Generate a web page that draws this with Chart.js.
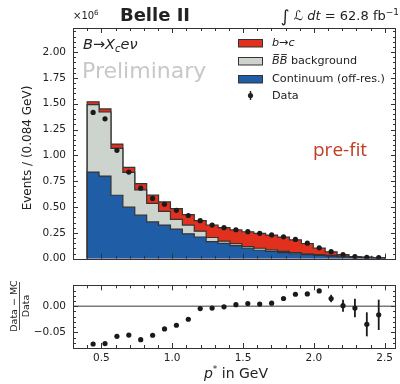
<!DOCTYPE html>
<html>
<head>
<meta charset="utf-8">
<script src="https://cdn.jsdelivr.net/npm/chart.js@4.4.1/dist/chart.umd.min.js"></script>
<style>
  html, body { margin: 0; padding: 0; background: #fff; }
  #wrap { position: relative; width: 400px; height: 384px; }
  #main { position: absolute; left: 0; top: 0; }
  #ratio { position: absolute; left: 0; top: 272px; }
</style>
</head>
<body>
<div id="wrap">
  <canvas id="main" width="400" height="272"></canvas>
  <canvas id="ratio" width="400" height="112"></canvas>
</div>
<script>
// bin edges of p* in GeV (25 bins of 0.084 GeV)
const binEdges = [0.400, 0.484, 0.568, 0.652, 0.736, 0.820, 0.904, 0.988, 1.072, 1.156,
  1.240, 1.324, 1.408, 1.492, 1.576, 1.660, 1.744, 1.828, 1.912, 1.996,
  2.080, 2.164, 2.248, 2.332, 2.416, 2.500];

// events per bin, in units of 1e6
const continuum = [0.838, 0.800, 0.614, 0.499, 0.421, 0.356, 0.325, 0.287, 0.241, 0.210,
  0.165, 0.148, 0.126, 0.101, 0.082, 0.070, 0.058, 0.048, 0.040, 0.032,
  0.025, 0.018, 0.013, 0.009, 0.007];
const bbBackground = [0.653, 0.620, 0.454, 0.336, 0.246, 0.180, 0.134, 0.094, 0.084, 0.056,
  0.040, 0.022, 0.019, 0.016, 0.019, 0.016, 0.012, 0.010, 0.008, 0.008,
  0.007, 0.006, 0.004, 0.003, 0.002];
const bToC = [0.028, 0.030, 0.041, 0.049, 0.060, 0.079, 0.091, 0.104, 0.102, 0.103,
  0.121, 0.131, 0.134, 0.144, 0.144, 0.143, 0.139, 0.125, 0.099, 0.062,
  0.035, 0.016, 0.004, 0.0025, 0.002];
const dataCounts = [1.416, 1.354, 1.049, 0.838, 0.683, 0.583, 0.527, 0.468, 0.418, 0.368,
  0.325, 0.300, 0.280, 0.262, 0.246, 0.230, 0.212, 0.187, 0.150, 0.105,
  0.068, 0.040, 0.021, 0.014, 0.011];

// (Data - MC) / Data
const ratio = [-0.0723, -0.0715, -0.0576, -0.0553, -0.0640, -0.0556, -0.0435, -0.0365, -0.0250, -0.0045,
  -0.0035, -0.0012, 0.0029, 0.0052, 0.0041, 0.0058, 0.0147, 0.0229, 0.0234, 0.0293,
  0.0147, 0.0010, -0.0035, -0.0347, -0.0165];
const ratioErr = [0.001, 0.001, 0.001, 0.001, 0.001, 0.0012, 0.0013, 0.0014, 0.0015, 0.0016,
  0.0017, 0.0018, 0.0019, 0.002, 0.0021, 0.0022, 0.0024, 0.0026, 0.003, 0.0038,
  0.007, 0.0115, 0.0176, 0.023, 0.029];

const FONT = "'DejaVu Sans', sans-serif";
const RED = '#e2301f';
const GREY = '#cdd3cd';
const BLUE = '#1f5ea6';
const EDGE = '#333333';

const centers = binEdges.slice(0, -1).map((e, i) => (e + binEdges[i + 1]) / 2);

// stacked step outlines: cumulative sums of the components
function stepPoints(vals) {
  const pts = [{ x: binEdges[0], y: 0 }];
  vals.forEach((v, i) => pts.push({ x: binEdges[i], y: v }));
  pts.push({ x: binEdges[binEdges.length - 1], y: vals[vals.length - 1] });
  pts.push({ x: binEdges[binEdges.length - 1], y: 0 });
  return pts;
}
const stackBlue = continuum.slice();
const stackGrey = continuum.map((v, i) => v + bbBackground[i]);
const stackRed = stackGrey.map((v, i) => v + bToC[i]);

function stepDataset(label, vals, color, order) {
  return {
    type: 'line', label, data: stepPoints(vals), stepped: 'before',
    borderColor: EDGE, borderWidth: 1.2, backgroundColor: color,
    fill: 'origin', pointRadius: 0, order
  };
}

// frame + inward ticks, matplotlib style
function frameTicks(xMajor, xMinor, yMajor, yMinor) {
  return {
    id: 'frameTicks',
    afterDatasetsDraw(chart) {
      const { ctx, chartArea: a, scales: { x, y } } = chart;
      ctx.save();
      ctx.strokeStyle = EDGE;
      ctx.lineWidth = 1;
      const isMajor = (v, step) => Math.abs(v / step - Math.round(v / step)) < 1e-6;
      for (let k = Math.ceil(x.min / xMinor - 1e-9); k * xMinor <= x.max + 1e-9; k++) {
        const v = k * xMinor;
        const px = Math.round(x.getPixelForValue(v)) + 0.5;
        const len = isMajor(v, xMajor) ? 5 : 3;
        ctx.beginPath();
        ctx.moveTo(px, a.bottom); ctx.lineTo(px, a.bottom - len);
        ctx.moveTo(px, a.top); ctx.lineTo(px, a.top + len);
        ctx.stroke();
      }
      for (let k = Math.ceil(y.min / yMinor - 1e-9); k * yMinor <= y.max + 1e-9; k++) {
        const v = k * yMinor;
        const py = Math.round(y.getPixelForValue(v)) + 0.5;
        const len = isMajor(v, yMajor) ? 5 : 3;
        ctx.beginPath();
        ctx.moveTo(a.left, py); ctx.lineTo(a.left + len, py);
        ctx.moveTo(a.right, py); ctx.lineTo(a.right - len, py);
        ctx.stroke();
      }
      ctx.strokeRect(Math.round(a.left) + 0.5, Math.round(a.top) + 0.5,
        Math.round(a.right - a.left) - 1, Math.round(a.bottom - a.top));
      ctx.restore();
    }
  };
}

// write a sequence of [text, font, dy] pieces starting at x
function runs(ctx, x, y, parts) {
  parts.forEach(([t, f, dy]) => {
    ctx.font = f;
    ctx.fillText(t, x, y + (dy || 0));
    x += ctx.measureText(t).width;
  });
  return x;
}
function runsWidth(ctx, parts) {
  let w = 0;
  parts.forEach(([t, f]) => { ctx.font = f; w += ctx.measureText(t).width; });
  return w;
}

const mainText = {
  id: 'mainText',
  afterDraw(chart) {
    const ctx = chart.ctx;
    ctx.save();
    ctx.fillStyle = '#222';
    ctx.textBaseline = 'alphabetic';
    ctx.textAlign = 'left';
    // exponent
    runs(ctx, 73, 19, [['×10', `10px ${FONT}`], ['6', `7px ${FONT}`, -4]]);
    // experiment
    ctx.font = `bold 18px ${FONT}`;
    ctx.textAlign = 'center';
    ctx.fillText('Belle II', 155, 21);
    ctx.textAlign = 'left';
    // luminosity
    const lumi = [['∫', `17px ${FONT}`, 2], [' ', `13px ${FONT}`], ['ℒ', `italic 13px ${FONT}`],
      [' dt', `italic 13px ${FONT}`], [' = 62.8 fb', `13px ${FONT}`], ['−1', `9px ${FONT}`, -5]];
    runs(ctx, 399 - runsWidth(ctx, lumi), 20, lumi);
    // y title
    ctx.save();
    ctx.translate(31, 148);
    ctx.rotate(-Math.PI / 2);
    ctx.font = `12px ${FONT}`;
    ctx.textAlign = 'center';
    ctx.fillStyle = '#222';
    ctx.fillText('Events / (0.084 GeV)', 0, 0);
    ctx.restore();
    // decay label
    runs(ctx, 83, 49, [['B', `italic 14.5px ${FONT}`], ['→', `14.5px ${FONT}`],
      ['X', `italic 14.5px ${FONT}`], ['c', `italic 10px ${FONT}`, 3], ['eν', `italic 14.5px ${FONT}`]]);
    ctx.fillStyle = '#c8c8c8';
    ctx.font = `22px ${FONT}`;
    ctx.fillText('Preliminary', 82, 78);
    // pre-fit
    ctx.fillStyle = '#c23b22';
    ctx.font = "19px 'Open Sans', sans-serif";
    ctx.fillText('pre-fit', 313, 156);
    // legend
    const rows = [[RED, 43], [GREY, 61], [BLUE, 79]];
    rows.forEach(([c, yy]) => {
      ctx.fillStyle = c;
      ctx.fillRect(238.5, yy - 3.5, 24, 7.5);
      ctx.strokeStyle = EDGE;
      ctx.lineWidth = 1;
      ctx.strokeRect(238.5, yy - 3.5, 24, 7.5);
    });
    ctx.fillStyle = '#222';
    ctx.strokeStyle = '#222';
    ctx.beginPath();
    ctx.moveTo(250.5, 91); ctx.lineTo(250.5, 100); ctx.lineWidth = 1.5; ctx.stroke();
    ctx.beginPath(); ctx.arc(250.5, 95.5, 2.6, 0, Math.PI * 2); ctx.fill();
    ctx.textBaseline = 'middle';
    const lf = `11.2px ${FONT}`;
    runs(ctx, 272, 43, [['b', `italic ${lf}`], ['→', lf], ['c', `italic ${lf}`]]);
    ctx.font = `italic ${lf}`;
    const wB = ctx.measureText('B').width;
    let xx = runs(ctx, 272, 61, [['B', `italic ${lf}`], ['B', `italic ${lf}`]]);
    ctx.lineWidth = 0.9;
    ctx.beginPath();
    ctx.moveTo(273.5, 54.5); ctx.lineTo(272 + wB - 0.5, 54.5);
    ctx.moveTo(272 + wB + 1.5, 54.5); ctx.lineTo(272 + 2 * wB - 0.5, 54.5);
    ctx.stroke();
    runs(ctx, xx, 61, [[' background', lf]]);
    runs(ctx, 272, 79, [['Continuum (off-res.)', lf]]);
    runs(ctx, 272, 96, [['Data', lf]]);
    ctx.restore();
  }
};

new Chart(document.getElementById('main'), {
  type: 'line',
  data: {
    datasets: [
      {
        type: 'scatter', label: 'Data',
        data: centers.map((x, i) => ({ x, y: dataCounts[i] })),
        pointRadius: 2.6, pointBackgroundColor: '#1a1a1a', pointBorderWidth: 0, order: 0
      },
      stepDataset('Continuum (off-res.)', stackBlue, BLUE, 1),
      stepDataset('BB background', stackGrey, GREY, 2),
      stepDataset('b→c', stackRed, RED, 3)
    ]
  },
  options: {
    responsive: false,
    animation: false,
    layout: { padding: { top: 28, right: 2, bottom: 4, left: 0 } },
    plugins: { legend: { display: false }, tooltip: { enabled: false } },
    scales: {
      x: {
        type: 'linear', min: 0.3, max: 2.58,
        ticks: { display: false },
        grid: { display: false, drawTicks: false },
        border: { display: false },
        afterFit(s) { s.height = 0; }
      },
      y: {
        min: 0, max: 2.233,
        ticks: {
          stepSize: 0.25, includeBounds: false, padding: 7, color: '#222',
          font: { family: FONT, size: 10.5 },
          callback: v => v.toFixed(2)
        },
        grid: { display: false, drawTicks: false },
        border: { display: false },
        afterFit(s) { s.width = 73; }
      }
    }
  },
  plugins: [frameTicks(0.5, 0.1, 0.25, 0.05), mainText]
});

const zeroLine = {
  id: 'zeroLine',
  beforeDatasetsDraw(chart) {
    const { ctx, chartArea: a, scales: { y } } = chart;
    const py = y.getPixelForValue(0);
    ctx.save();
    ctx.strokeStyle = '#7a7a7a';
    ctx.lineWidth = 1.6;
    ctx.beginPath(); ctx.moveTo(a.left, py); ctx.lineTo(a.right, py); ctx.stroke();
    ctx.restore();
  }
};

const errorBars = {
  id: 'errorBars',
  afterDatasetsDraw(chart) {
    const { ctx, scales: { x, y } } = chart;
    ctx.save();
    ctx.strokeStyle = '#1a1a1a';
    ctx.lineWidth = 1.8;
    ratio.forEach((r, i) => {
      const px = x.getPixelForValue(centers[i]);
      ctx.beginPath();
      ctx.moveTo(px, y.getPixelForValue(r - ratioErr[i]));
      ctx.lineTo(px, y.getPixelForValue(r + ratioErr[i]));
      ctx.stroke();
    });
    ctx.restore();
  }
};

const ratioText = {
  id: 'ratioText',
  afterDraw(chart) {
    const ctx = chart.ctx;
    ctx.save();
    ctx.fillStyle = '#222';
    // x title
    ctx.textBaseline = 'alphabetic';
    const parts = [['p', `italic 14px ${FONT}`], ['*', `9px ${FONT}`, -6], [' in GeV', `14px ${FONT}`]];
    runs(ctx, 236 - runsWidth(ctx, parts) / 2, 106, parts);
    // y title as a fraction
    ctx.translate(19.5, 34);
    ctx.rotate(-Math.PI / 2);
    ctx.font = `9.5px ${FONT}`;
    ctx.textAlign = 'center';
    ctx.textBaseline = 'alphabetic';
    ctx.fillText('Data − MC', 0, -2.5);
    ctx.textBaseline = 'top';
    ctx.fillText('Data', 0, 2);
    ctx.strokeStyle = '#222';
    ctx.lineWidth = 0.8;
    ctx.beginPath(); ctx.moveTo(-24, 0); ctx.lineTo(24, 0); ctx.stroke();
    ctx.restore();
  }
};

new Chart(document.getElementById('ratio'), {
  type: 'scatter',
  data: {
    datasets: [{
      label: 'Data',
      data: centers.map((x, i) => ({ x, y: ratio[i] })),
      pointRadius: 2.6, pointBackgroundColor: '#1a1a1a', pointBorderWidth: 0
    }]
  },
  options: {
    responsive: false,
    animation: false,
    layout: { padding: { top: 8, right: 2, bottom: 0, left: 0 } },
    plugins: { legend: { display: false }, tooltip: { enabled: false } },
    scales: {
      x: {
        type: 'linear', min: 0.3, max: 2.58,
        ticks: {
          stepSize: 0.5, includeBounds: false, padding: 4, color: '#222',
          font: { family: FONT, size: 10.5 },
          callback: v => v.toFixed(1)
        },
        grid: { display: false, drawTicks: false },
        border: { display: false },
        afterFit(s) { s.height = 36; }
      },
      y: {
        min: -0.08, max: 0.04,
        ticks: {
          stepSize: 0.05, includeBounds: false, padding: 7, color: '#222',
          font: { family: FONT, size: 10.5 },
          callback: v => (Math.abs(v) < 1e-9 ? 0 : v).toFixed(2).replace('-', '−')
        },
        grid: { display: false, drawTicks: false },
        border: { display: false },
        afterFit(s) { s.width = 73; }
      }
    }
  },
  plugins: [zeroLine, errorBars, frameTicks(0.5, 0.1, 0.05, 0.01), ratioText]
});
</script>
</body>
</html>
